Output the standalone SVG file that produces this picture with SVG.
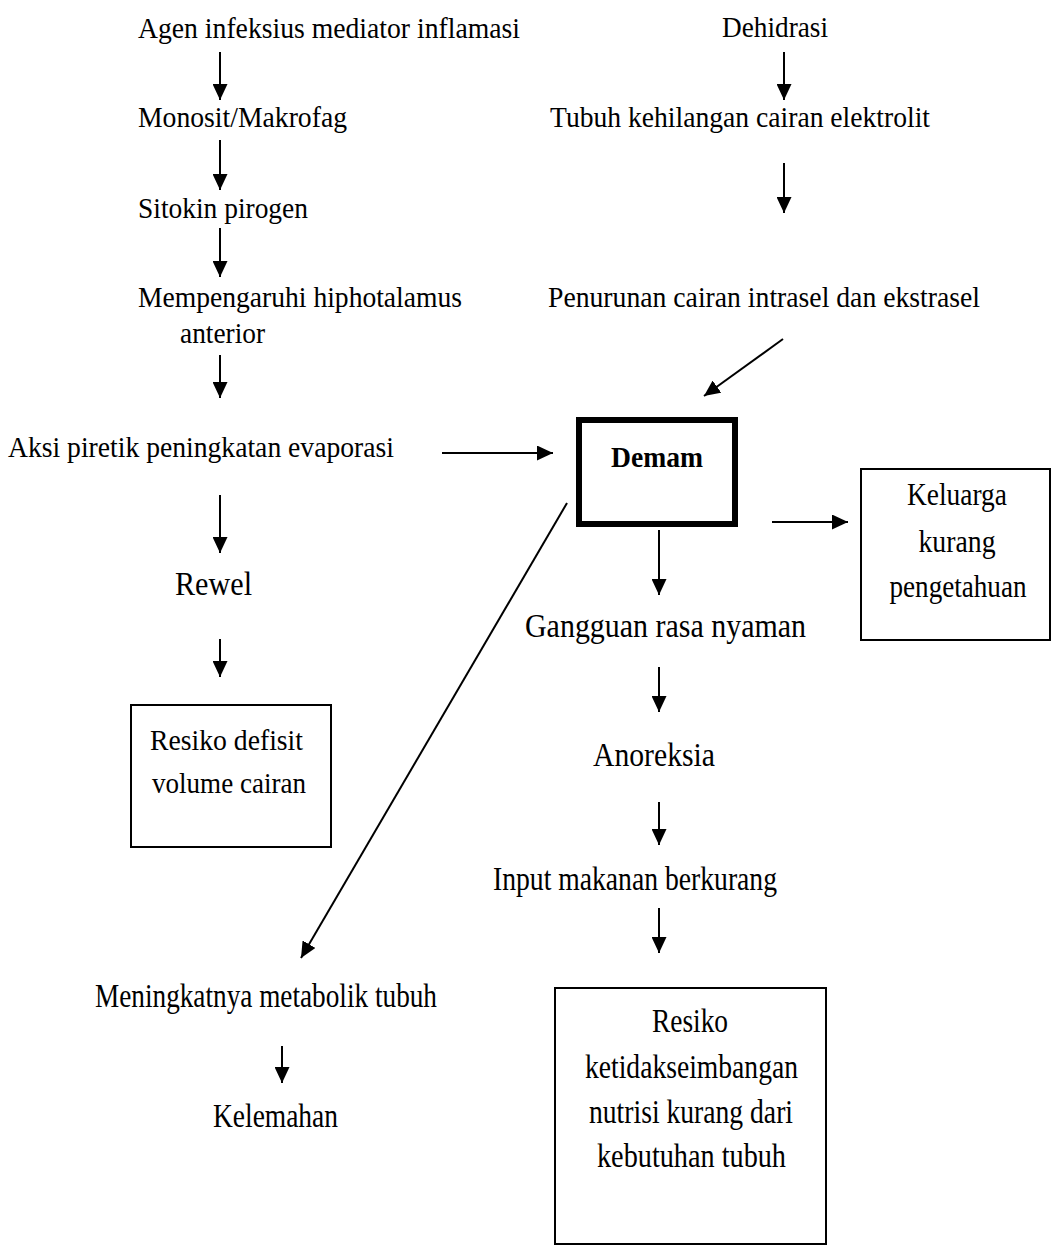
<svg xmlns="http://www.w3.org/2000/svg" width="1053" height="1247" viewBox="0 0 1053 1247">
<defs>
<marker id="ah" markerUnits="userSpaceOnUse" markerWidth="16" markerHeight="15" refX="16" refY="7.5" orient="auto">
<path d="M0,0 L16,7.5 L0,15 Z" fill="#000"/>
</marker>
</defs>
<style>
text{font-family:"Liberation Serif","Times New Roman",serif;fill:#000}
.s{font-size:29px}
.m{font-size:33px}
.l{font-size:34px}
.k{font-size:31px;text-anchor:middle}
.b{font-size:30px;font-weight:bold}
.c{stroke:#000;stroke-width:2;fill:none;marker-end:url(#ah)}
.box{fill:#fff;stroke:#000;stroke-width:2}
.thick{fill:#fff;stroke:#000;stroke-width:6}
</style>
<rect width="1053" height="1247" fill="#fff"/>
<g id="connectors">
<line class="c" x1="220" y1="52" x2="220" y2="100"/>
<line class="c" x1="220" y1="140" x2="220" y2="190"/>
<line class="c" x1="220" y1="228" x2="220" y2="277"/>
<line class="c" x1="220" y1="355" x2="220" y2="398"/>
<line class="c" x1="442" y1="453" x2="553" y2="453"/>
<line class="c" x1="220" y1="495" x2="220" y2="553"/>
<line class="c" x1="220" y1="639" x2="220" y2="677"/>
<line class="c" x1="784" y1="52" x2="784" y2="100"/>
<line class="c" x1="784" y1="163" x2="784" y2="213"/>
<line class="c" x1="783" y1="339" x2="704" y2="396"/>
<line class="c" x1="772" y1="522" x2="848" y2="522"/>
<line class="c" x1="659" y1="530" x2="659" y2="595"/>
<line class="c" x1="659" y1="667" x2="659" y2="712"/>
<line class="c" x1="659" y1="802" x2="659" y2="845"/>
<line class="c" x1="659" y1="908" x2="659" y2="953"/>
<line class="c" x1="567" y1="503" x2="301" y2="958"/>
<line class="c" x1="282" y1="1046" x2="282" y2="1083"/>
</g>
<g id="agen"><text class="s" x="138" y="38" textLength="382" lengthAdjust="spacingAndGlyphs">Agen infeksius mediator inflamasi</text></g>
<g id="monosit"><text class="s" x="138" y="127" textLength="209" lengthAdjust="spacingAndGlyphs">Monosit/Makrofag</text></g>
<g id="sitokin"><text class="s" x="138" y="218" textLength="170" lengthAdjust="spacingAndGlyphs">Sitokin pirogen</text></g>
<g id="hipotalamus">
<text class="s" x="138" y="307" textLength="324" lengthAdjust="spacingAndGlyphs">Mempengaruhi hiphotalamus</text>
<text class="s" x="180" y="343" textLength="85" lengthAdjust="spacingAndGlyphs">anterior</text>
</g>
<g id="aksi"><text class="s" x="8" y="457" textLength="386" lengthAdjust="spacingAndGlyphs">Aksi piretik peningkatan evaporasi</text></g>
<g id="rewel"><text class="l" x="175" y="595" textLength="77" lengthAdjust="spacingAndGlyphs">Rewel</text></g>
<g id="resiko-defisit">
<rect class="box" x="131" y="705" width="200" height="142"/>
<text class="s" x="150" y="750" textLength="153" lengthAdjust="spacingAndGlyphs">Resiko defisit</text>
<text class="s" x="152" y="793" textLength="154" lengthAdjust="spacingAndGlyphs">volume cairan</text>
</g>
<g id="dehidrasi"><text class="s" x="722" y="37" textLength="106" lengthAdjust="spacingAndGlyphs">Dehidrasi</text></g>
<g id="tubuh"><text class="s" x="550" y="127" textLength="380" lengthAdjust="spacingAndGlyphs">Tubuh kehilangan cairan elektrolit</text></g>
<g id="penurunan"><text class="s" x="548" y="307" textLength="432" lengthAdjust="spacingAndGlyphs">Penurunan cairan intrasel dan ekstrasel</text></g>
<g id="demam">
<rect class="thick" x="579" y="420" width="156" height="104"/>
<text class="b" x="611" y="467" textLength="92" lengthAdjust="spacingAndGlyphs">Demam</text>
</g>
<g id="keluarga">
<rect class="box" x="861" y="469" width="189" height="171"/>
<text class="k" x="957" y="505" textLength="100" lengthAdjust="spacingAndGlyphs">Keluarga</text>
<text class="k" x="957" y="552" textLength="77" lengthAdjust="spacingAndGlyphs">kurang</text>
<text class="k" x="958" y="597" textLength="137" lengthAdjust="spacingAndGlyphs">pengetahuan</text>
</g>
<g id="gangguan"><text class="l" x="525" y="637" textLength="281" lengthAdjust="spacingAndGlyphs">Gangguan rasa nyaman</text></g>
<g id="anoreksia"><text class="m" x="593" y="766" textLength="122" lengthAdjust="spacingAndGlyphs">Anoreksia</text></g>
<g id="input"><text class="m" x="493" y="890" textLength="284" lengthAdjust="spacingAndGlyphs">Input makanan berkurang</text></g>
<g id="resiko-nutrisi">
<rect class="box" x="555" y="988" width="271" height="256"/>
<text class="m" x="652" y="1032" textLength="76" lengthAdjust="spacingAndGlyphs">Resiko</text>
<text class="m" x="585" y="1078" textLength="213" lengthAdjust="spacingAndGlyphs">ketidakseimbangan</text>
<text class="m" x="589" y="1123" textLength="204" lengthAdjust="spacingAndGlyphs">nutrisi kurang dari</text>
<text class="m" x="597" y="1167" textLength="189" lengthAdjust="spacingAndGlyphs">kebutuhan tubuh</text>
</g>
<g id="meningkatnya"><text class="m" x="95" y="1007" textLength="342" lengthAdjust="spacingAndGlyphs">Meningkatnya metabolik tubuh</text></g>
<g id="kelemahan"><text class="m" x="213" y="1127" textLength="125" lengthAdjust="spacingAndGlyphs">Kelemahan</text></g>
</svg>
